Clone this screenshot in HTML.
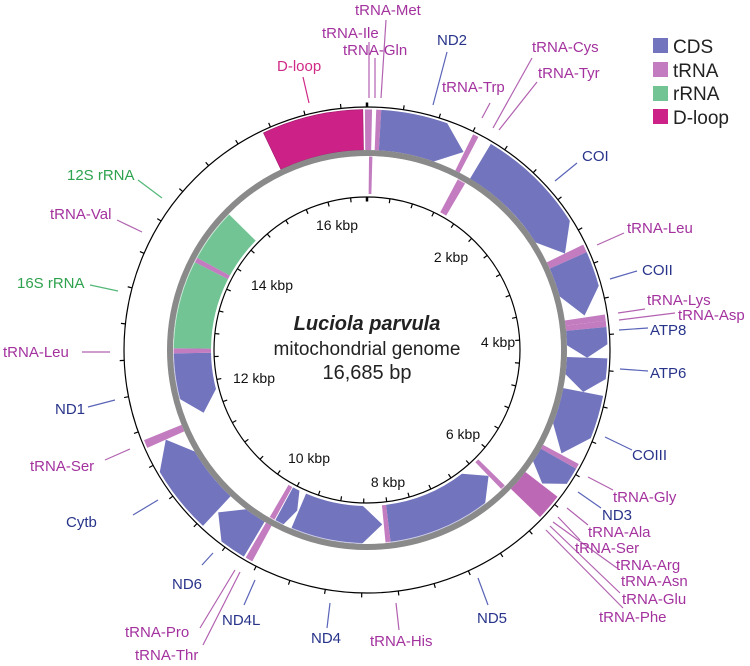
<!DOCTYPE html>
<html><head><meta charset="utf-8"><style>
html,body{margin:0;padding:0;background:#fff;}
svg{display:block;font-family:"Liberation Sans",Arial,sans-serif;}
.t{fill:#a3329e;font-size:15px}
.c{fill:#28348a;font-size:15px}
.r{fill:#2ea24e;font-size:15px}
.d{fill:#cf2a86;font-size:15px}
.lt{stroke:#b262b0;stroke-width:1.2}
.lc{stroke:#5a64b8;stroke-width:1.2}
.lr{stroke:#52b878;stroke-width:1.2}
.ld{stroke:#cf2a86;stroke-width:1.2}
</style></head><body>
<svg id="s" width="750" height="666" viewBox="0 0 750 666" xmlns="http://www.w3.org/2000/svg">
<g id="feat"></g>
<circle cx="367" cy="350" r="197" fill="none" stroke="#8a8a8a" stroke-width="6"/>
<circle cx="367" cy="350" r="193.5" fill="none" stroke="#ffffff" stroke-width="0.8" opacity="0.7"/>
<circle cx="367" cy="350" r="243" fill="none" stroke="#000" stroke-width="1.2"/>
<circle cx="367" cy="350" r="153" fill="none" stroke="#000" stroke-width="1.2"/>
<g id="ticks" stroke="#000"></g>

<text x="367" y="330" text-anchor="middle" font-size="20" font-weight="bold" font-style="italic" fill="#222">Luciola parvula</text>
<text x="367" y="355" text-anchor="middle" font-size="19" fill="#222">mitochondrial genome</text>
<text x="367" y="379" text-anchor="middle" font-size="20" fill="#222">16,685 bp</text>

<g font-size="14" fill="#111" text-anchor="middle">
<text x="337" y="230">16 kbp</text>
<text x="451" y="262">2 kbp</text>
<text x="272" y="290">14 kbp</text>
<text x="498" y="347">4 kbp</text>
<text x="254" y="383">12 kbp</text>
<text x="463" y="439">6 kbp</text>
<text x="309" y="463">10 kbp</text>
<text x="388" y="487">8 kbp</text>
</g>

<g fill="none">
<line class="lt" x1="386" y1="20" x2="381" y2="98"/>
<line class="lt" x1="369" y1="42" x2="369" y2="98"/>
<line class="lt" x1="375" y1="58" x2="375" y2="98"/>
<line class="ld" x1="303" y1="77" x2="309" y2="103"/>
<line class="lc" x1="447" y1="52" x2="433" y2="105"/>
<line class="lt" x1="490" y1="103" x2="482" y2="118"/>
<line class="lt" x1="532" y1="58" x2="493" y2="128"/>
<line class="lt" x1="537" y1="82" x2="499" y2="130"/>
<line class="lc" x1="577" y1="163" x2="555" y2="181"/>
<line class="lt" x1="624" y1="233" x2="597" y2="245"/>
<line class="lc" x1="637" y1="271" x2="610" y2="279"/>
<line class="lt" x1="645" y1="309" x2="618" y2="313"/>
<line class="lt" x1="675" y1="313" x2="619" y2="320"/>
<line class="lc" x1="648" y1="328" x2="619" y2="330"/>
<line class="lc" x1="648" y1="371" x2="620" y2="369"/>
<line class="lc" x1="632" y1="450" x2="605" y2="437"/>
<line class="lt" x1="613" y1="490" x2="588" y2="477"/>
<line class="lc" x1="601" y1="508" x2="578" y2="492"/>
<line class="lt" x1="588" y1="525" x2="567" y2="508"/>
<line class="lt" x1="580" y1="540" x2="558" y2="517"/>
<line class="lt" x1="617" y1="568" x2="553" y2="522"/>
<line class="lt" x1="620" y1="593" x2="550" y2="526"/>
<line class="lt" x1="623" y1="608" x2="546" y2="530"/>
<line class="lc" x1="488" y1="605" x2="478" y2="578"/>
<line class="lt" x1="399" y1="630" x2="396" y2="603"/>
<line class="lc" x1="327" y1="628" x2="330" y2="603"/>
<line class="lc" x1="244" y1="605" x2="255" y2="580"/>
<line class="lt" x1="200" y1="628" x2="235" y2="570"/>
<line class="lt" x1="203" y1="645" x2="240" y2="572"/>
<line class="lc" x1="202" y1="565" x2="213" y2="553"/>
<line class="lc" x1="133" y1="515" x2="158" y2="500"/>
<line class="lt" x1="105" y1="460" x2="130" y2="449"/>
<line class="lc" x1="88" y1="407" x2="115" y2="400"/>
<line class="lt" x1="82" y1="352" x2="110" y2="352"/>
<line class="lr" x1="90" y1="285" x2="118" y2="291"/>
<line class="lt" x1="117" y1="220" x2="142" y2="232"/>
<line class="lr" x1="138" y1="180" x2="162" y2="198"/>
</g>

<text class="t" x="355" y="15">tRNA-Met</text>
<text class="t" x="322" y="38">tRNA-Ile</text>
<text class="t" x="343" y="55">tRNA-Gln</text>
<text class="d" x="277" y="71">D-loop</text>
<text class="c" x="437" y="45">ND2</text>
<text class="t" x="442" y="92">tRNA-Trp</text>
<text class="t" x="532" y="52">tRNA-Cys</text>
<text class="t" x="538" y="78">tRNA-Tyr</text>
<text class="c" x="582" y="161">COI</text>
<text class="t" x="627" y="233">tRNA-Leu</text>
<text class="c" x="642" y="275">COII</text>
<text class="t" x="647" y="305">tRNA-Lys</text>
<text class="t" x="678" y="320">tRNA-Asp</text>
<text class="c" x="650" y="335">ATP8</text>
<text class="c" x="650" y="378">ATP6</text>
<text class="c" x="632" y="460">COIII</text>
<text class="t" x="613" y="502">tRNA-Gly</text>
<text class="c" x="602" y="520">ND3</text>
<text class="t" x="588" y="537">tRNA-Ala</text>
<text class="t" x="575" y="553">tRNA-Ser</text>
<text class="t" x="616" y="570">tRNA-Arg</text>
<text class="t" x="621" y="586">tRNA-Asn</text>
<text class="t" x="622" y="604">tRNA-Glu</text>
<text class="t" x="599" y="622">tRNA-Phe</text>
<text class="c" x="477" y="623">ND5</text>
<text class="t" x="370" y="646">tRNA-His</text>
<text class="c" x="311" y="643">ND4</text>
<text class="c" x="222" y="625">ND4L</text>
<text class="t" x="125" y="637">tRNA-Pro</text>
<text class="t" x="135" y="660">tRNA-Thr</text>
<text class="c" x="172" y="589">ND6</text>
<text class="c" x="66" y="527">Cytb</text>
<text class="t" x="30" y="471">tRNA-Ser</text>
<text class="c" x="55" y="414">ND1</text>
<text class="t" x="3" y="357">tRNA-Leu</text>
<text class="r" x="17" y="288">16S rRNA</text>
<text class="t" x="50" y="219">tRNA-Val</text>
<text class="r" x="67" y="180">12S rRNA</text>

<rect x="653" y="38" width="15" height="15" fill="#7274bd"/>
<rect x="653" y="62" width="15" height="15" fill="#c27cbf"/>
<rect x="653" y="86" width="15" height="15" fill="#72c494"/>
<rect x="653" y="109" width="15" height="15" fill="#cc2288"/>
<g font-size="19" fill="#222">
<text x="673" y="53">CDS</text>
<text x="673" y="77">tRNA</text>
<text x="673" y="100">rRNA</text>
<text x="673" y="124">D-loop</text>
</g>
</svg>
<script>
(function(){
var cx=367,cy=350,NS="http://www.w3.org/2000/svg";
function P(a,r){var t=a*Math.PI/180;return [(cx+r*Math.sin(t)).toFixed(2),(cy-r*Math.cos(t)).toFixed(2)];}
function arc(a1,a2,r){var p=P(a2,r);var large=Math.abs(a2-a1)>180?1:0;var sw=a2>a1?1:0;return "A"+r+" "+r+" 0 "+large+" "+sw+" "+p[0]+" "+p[1];}
var C={cds:"#7274bd",trna:"#c27cbf",rrna:"#72c494",dl:"#cc2288",cl:"#bc68b4"};
var O=[200,240.5],I=[156,194];
var F=[
[-25.5,-1,O,"dl",0],[-0.5,1.2,O,"trna",0],[2.2,3.4,O,"trna",0],
[3.4,26,O,"cds",1],[26.2,27.6,O,"trna",0],[31,64,O,"cds",1],[64,66,O,"trna",0],
[66,81,O,"cds",1],[81.5,83,O,"trna",0],[83,84.5,O,"trna",0],[84.5,92,O,"cds",1],
[92,101,O,"cds",1],[101,118,O,"cds",1],[118.3,119.6,O,"trna",0],[119.6,127.3,O,"cds",1],
[127.6,134,O,"cl",0],[208.5,210.3,O,"trna",0],[210.8,222.5,O,"cds",1],[223,246,O,"cds",1],[246,248,O,"trna",0],
[0.6,1.6,I,"trna",0],[28,30.5,I,"trna",0],[134.5,136,I,"trna",0],[136,173,I,"cds",-1],
[173,174.5,I,"trna",0],[175,203,I,"cds",-1],[203.5,208.3,I,"cds",-1],[208.6,210.2,I,"trna",0],
[249,269,I,"cds",-1],[269,270.5,I,"trna",0],[270.5,297,I,"rrna",0],[297,298.5,I,"trna",0],[298.5,314.5,I,"rrna",0]
];
var g=document.getElementById("feat");
F.forEach(function(f){
 var a1=f[0],a2=f[1],r1=f[2][0],r2=f[2][1],rm=(r1+r2)/2,h=Math.min(6.5,(a2-a1)*0.45),d;
 if(f[4]===1){var b=a2-h;var p0=P(a1,r2),pt=P(a2,rm),pi=P(b,r1);
  d="M"+p0.join(" ")+arc(a1,b,r2)+"L"+pt.join(" ")+"L"+pi.join(" ")+arc(b,a1,r1)+"Z";}
 else if(f[4]===-1){var b2=a1+h;var q0=P(a2,r2),qt=P(a1,rm),qi=P(b2,r1);
  d="M"+q0.join(" ")+arc(a2,b2,r2)+"L"+qt.join(" ")+"L"+qi.join(" ")+arc(b2,a2,r1)+"Z";}
 else{var s0=P(a1,r2),s1=P(a2,r1);d="M"+s0.join(" ")+arc(a1,a2,r2)+"L"+s1.join(" ")+arc(a2,a1,r1)+"Z";}
 var e=document.createElementNS(NS,"path");e.setAttribute("d",d);e.setAttribute("fill",C[f[3]]);
 if(f[3]==="dl"){e.setAttribute("stroke","#a0186a");e.setAttribute("stroke-width","0.6");}
 g.appendChild(e);
});
var tg=document.getElementById("ticks");
function tick(a,r1,r2,w){var p=P(a,r1),q=P(a,r2);var l=document.createElementNS(NS,"line");
 l.setAttribute("x1",p[0]);l.setAttribute("y1",p[1]);l.setAttribute("x2",q[0]);l.setAttribute("y2",q[1]);l.setAttribute("stroke-width",w);tg.appendChild(l);}
var N=16685;
for(var bp=0;bp<N-200;bp+=400){var a=bp/N*360;tick(a,243,247.5,bp===0?2.5:1.2);}
for(var bp2=0;bp2<N-200;bp2+=400){var a2=bp2/N*360;tick(a2,153,148.5,bp2===0?2.5:1.2);}
})();
</script>
</body></html>
